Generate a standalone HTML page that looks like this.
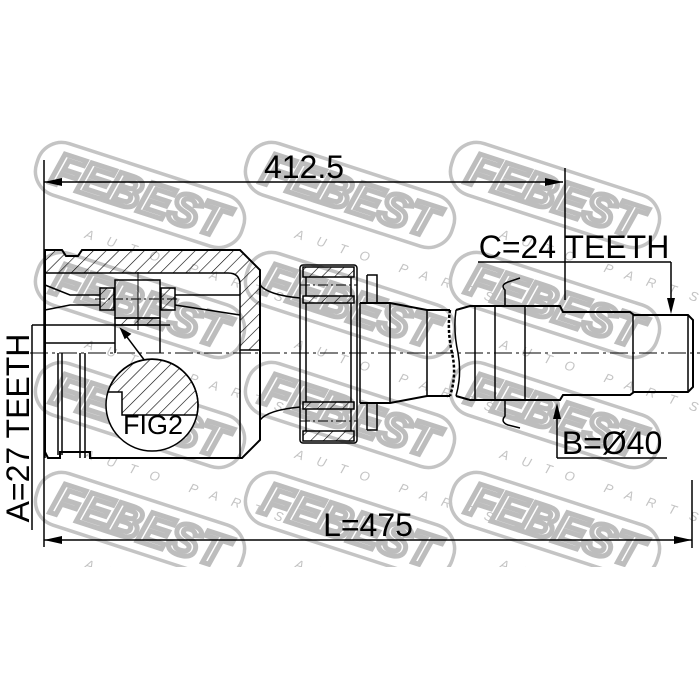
<!DOCTYPE html>
<html><head><style>html,body{margin:0;padding:0;background:#fff}svg{display:block}</style></head><body>
<svg width="700" height="700" viewBox="0 0 700 700" xmlns="http://www.w3.org/2000/svg" font-family="Liberation Sans, sans-serif">
<defs>
<pattern id="h" width="9" height="9" patternUnits="userSpaceOnUse" patternTransform="rotate(45)"><line x1="0" y1="0" x2="0" y2="9" stroke="#000" stroke-width="1.2"/></pattern>
<g id="logo">
<rect x="-108" y="-27" width="216" height="54" rx="25" fill="none" stroke="#c4c4c4" stroke-width="3.5"/>
<text x="0" y="16" text-anchor="middle" font-size="46" font-weight="bold" font-style="italic" fill="none" stroke="#bdbdbd" stroke-width="5">FEBEST</text>
<text x="-40" y="58" font-size="13" font-style="italic" fill="#c4c4c4" letter-spacing="14">AUTO PARTS</text>
</g>
<clipPath id="c"><rect x="0" y="0" width="700" height="567"/></clipPath>
</defs>
<g>
<use href="#logo" transform="translate(140,195) rotate(18)"/>
<use href="#logo" transform="translate(350,195) rotate(18)"/>
<use href="#logo" transform="translate(555,195) rotate(18)"/>
<use href="#logo" transform="translate(140,305) rotate(18)"/>
<use href="#logo" transform="translate(350,305) rotate(18)"/>
<use href="#logo" transform="translate(555,305) rotate(18)"/>
<use href="#logo" transform="translate(140,415) rotate(18)"/>
<use href="#logo" transform="translate(350,415) rotate(18)"/>
<use href="#logo" transform="translate(555,415) rotate(18)"/>
</g>
<g clip-path="url(#c)">
<use href="#logo" transform="translate(140,525) rotate(18)"/>
<use href="#logo" transform="translate(350,525) rotate(18)"/>
<use href="#logo" transform="translate(555,525) rotate(18)"/>
</g>
<rect x="0" y="567" width="700" height="133" fill="#fff"/>

<g stroke="#000" fill="none" stroke-width="1.5">
<line x1="44" y1="160" x2="44" y2="547"/>
<line x1="44" y1="182" x2="563" y2="182"/>
<line x1="565" y1="168" x2="565" y2="300"/>
<line x1="44" y1="540" x2="692" y2="540"/>
<line x1="692" y1="480" x2="692" y2="548"/>
<line x1="478" y1="262" x2="671" y2="262"/>
<line x1="671" y1="262" x2="671" y2="300"/>
<line x1="557" y1="458" x2="667" y2="458"/>
<line x1="557" y1="458" x2="557" y2="415"/>
<line x1="32" y1="325" x2="32" y2="530"/>
<line x1="32" y1="325" x2="100" y2="325"/>
<line x1="30" y1="353" x2="700" y2="353" stroke-width="1" stroke-dasharray="18,4,3,4"/>
<path d="M45,250 H62 L66,256 H78 L82,250 H240 L260,270 V440 L242,458 H90 V452 H60 V458 H48 L45,452 Z" stroke-width="2"/>
<path d="M45,250 H62 L66,256 H78 L82,250 H240 L260,270 V350 H240 V285 Q240,273 228,273 H45 Z" fill="url(#h)"/>
<line x1="45" y1="273" x2="45" y2="458"/>
<line x1="58" y1="353" x2="58" y2="455"/>
<line x1="62" y1="353" x2="62" y2="455"/>
<line x1="80" y1="353" x2="80" y2="458"/>
<line x1="85" y1="353" x2="85" y2="458"/>
<line x1="240" y1="350" x2="240" y2="458"/>
<path d="M45,285 L70,295 H100"/><path d="M45,310 L70,305 H100"/>
<path d="M175,295 H240"/><path d="M175,305 L240,315"/>
<line x1="45" y1="343" x2="115" y2="343"/>
<line x1="115" y1="325" x2="115" y2="353"/>
<line x1="160" y1="325" x2="160" y2="353"/>
<rect x="115" y="280" width="45" height="38"/>
<rect x="115" y="318" width="45" height="7" fill="url(#h)"/>
<rect x="100" y="288" width="14" height="22" fill="url(#h)"/>
<rect x="161" y="288" width="14" height="22" fill="url(#h)"/>
<line x1="138" y1="272" x2="138" y2="330" stroke-width="1"/>
<line x1="95" y1="299" x2="180" y2="299" stroke-width="1" stroke-dasharray="10,3,2,3"/>
<line x1="100" y1="325" x2="170" y2="325"/>
<line x1="148" y1="365" x2="124" y2="333"/>
<path d="M121,329 L130,334 L125,338 Z" fill="#000"/>
<circle cx="152" cy="405" r="46" fill="#fff"/>
<path d="M108,392 A46 46 0 0 1 197,415 H122 V392 Z" fill="url(#h)"/>
<path d="M260,285 Q268,295 300,298"/>
<path d="M260,420 Q268,410 300,407"/>
<rect x="300" y="265" width="57" height="178" rx="3"/>
<rect x="303" y="267" width="51" height="10" fill="url(#h)"/>
<rect x="303" y="431" width="51" height="10" fill="url(#h)"/>
<rect x="303" y="296" width="51" height="7" fill="url(#h)"/>
<rect x="303" y="402" width="51" height="7" fill="url(#h)"/>
<line x1="306" y1="277" x2="306" y2="296"/><line x1="351" y1="277" x2="351" y2="296"/>
<line x1="306" y1="409" x2="306" y2="431"/><line x1="351" y1="409" x2="351" y2="431"/>
<line x1="306" y1="303" x2="306" y2="402"/><line x1="351" y1="303" x2="351" y2="402"/>
<line x1="300" y1="285" x2="357" y2="285" stroke-width="1" stroke-dasharray="10,3,2,3"/>
<line x1="300" y1="421" x2="357" y2="421" stroke-width="1" stroke-dasharray="10,3,2,3"/>
<path d="M367,275 H377 V303 M367,275 V303 M367,430 H377 V403 M367,430 V403"/>
<path d="M360,303 H390 L427,310 H450 M360,403 H390 L427,396 H450" stroke-width="2"/>
<path d="M456,310 L470,306 H560 L563,312 H630 L634,315 H688 L693,320 V387 L688,392 H634 L630,395 H563 L560,400 H470 L456,396" stroke-width="2"/>
<line x1="360" y1="303" x2="360" y2="403"/>
<line x1="390" y1="303" x2="390" y2="403"/>
<line x1="427" y1="310" x2="427" y2="396"/>
<line x1="475" y1="306" x2="475" y2="400"/>
<line x1="495" y1="306" x2="495" y2="400"/>
<line x1="525" y1="306" x2="525" y2="400"/>
<line x1="633" y1="315" x2="633" y2="392"/>
<line x1="688" y1="315" x2="688" y2="392"/>
<path d="M450,310 Q447,330 452,353 Q457,375 450,396" stroke-width="2.5" stroke-dasharray="3,2"/>
<path d="M456,310 Q453,330 458,353 Q462,375 456,396"/>
<path d="M505,306 V290 Q500,285 508,282 L520,278 M505,400 V416 Q500,422 508,425 L520,428"/>
</g>
<g fill="#000">
<path d="M44,182 L62,178 L62,186 Z"/>
<path d="M563,182 L545,178 L545,186 Z"/>
<path d="M44,540 L62,536 L62,544 Z"/>
<path d="M692,540 L674,536 L674,544 Z"/>
<path d="M671,314 L667,298 L675,298 Z"/>
<path d="M557,403 L553,419 L561,419 Z"/>
</g>
<g fill="#000" font-size="32">
<text x="304" y="178" text-anchor="middle">412.5</text>
<text x="574" y="258" text-anchor="middle">C=24 TEETH</text>
<text x="612" y="454" text-anchor="middle">B=Ø40</text>
<text x="368" y="536" text-anchor="middle">L=475</text>
<text x="153" y="434" text-anchor="middle" font-size="27">FIG2</text>
<text transform="translate(29,428) rotate(-90)" text-anchor="middle">A=27 TEETH</text>
</g>
</svg>
</body></html>
